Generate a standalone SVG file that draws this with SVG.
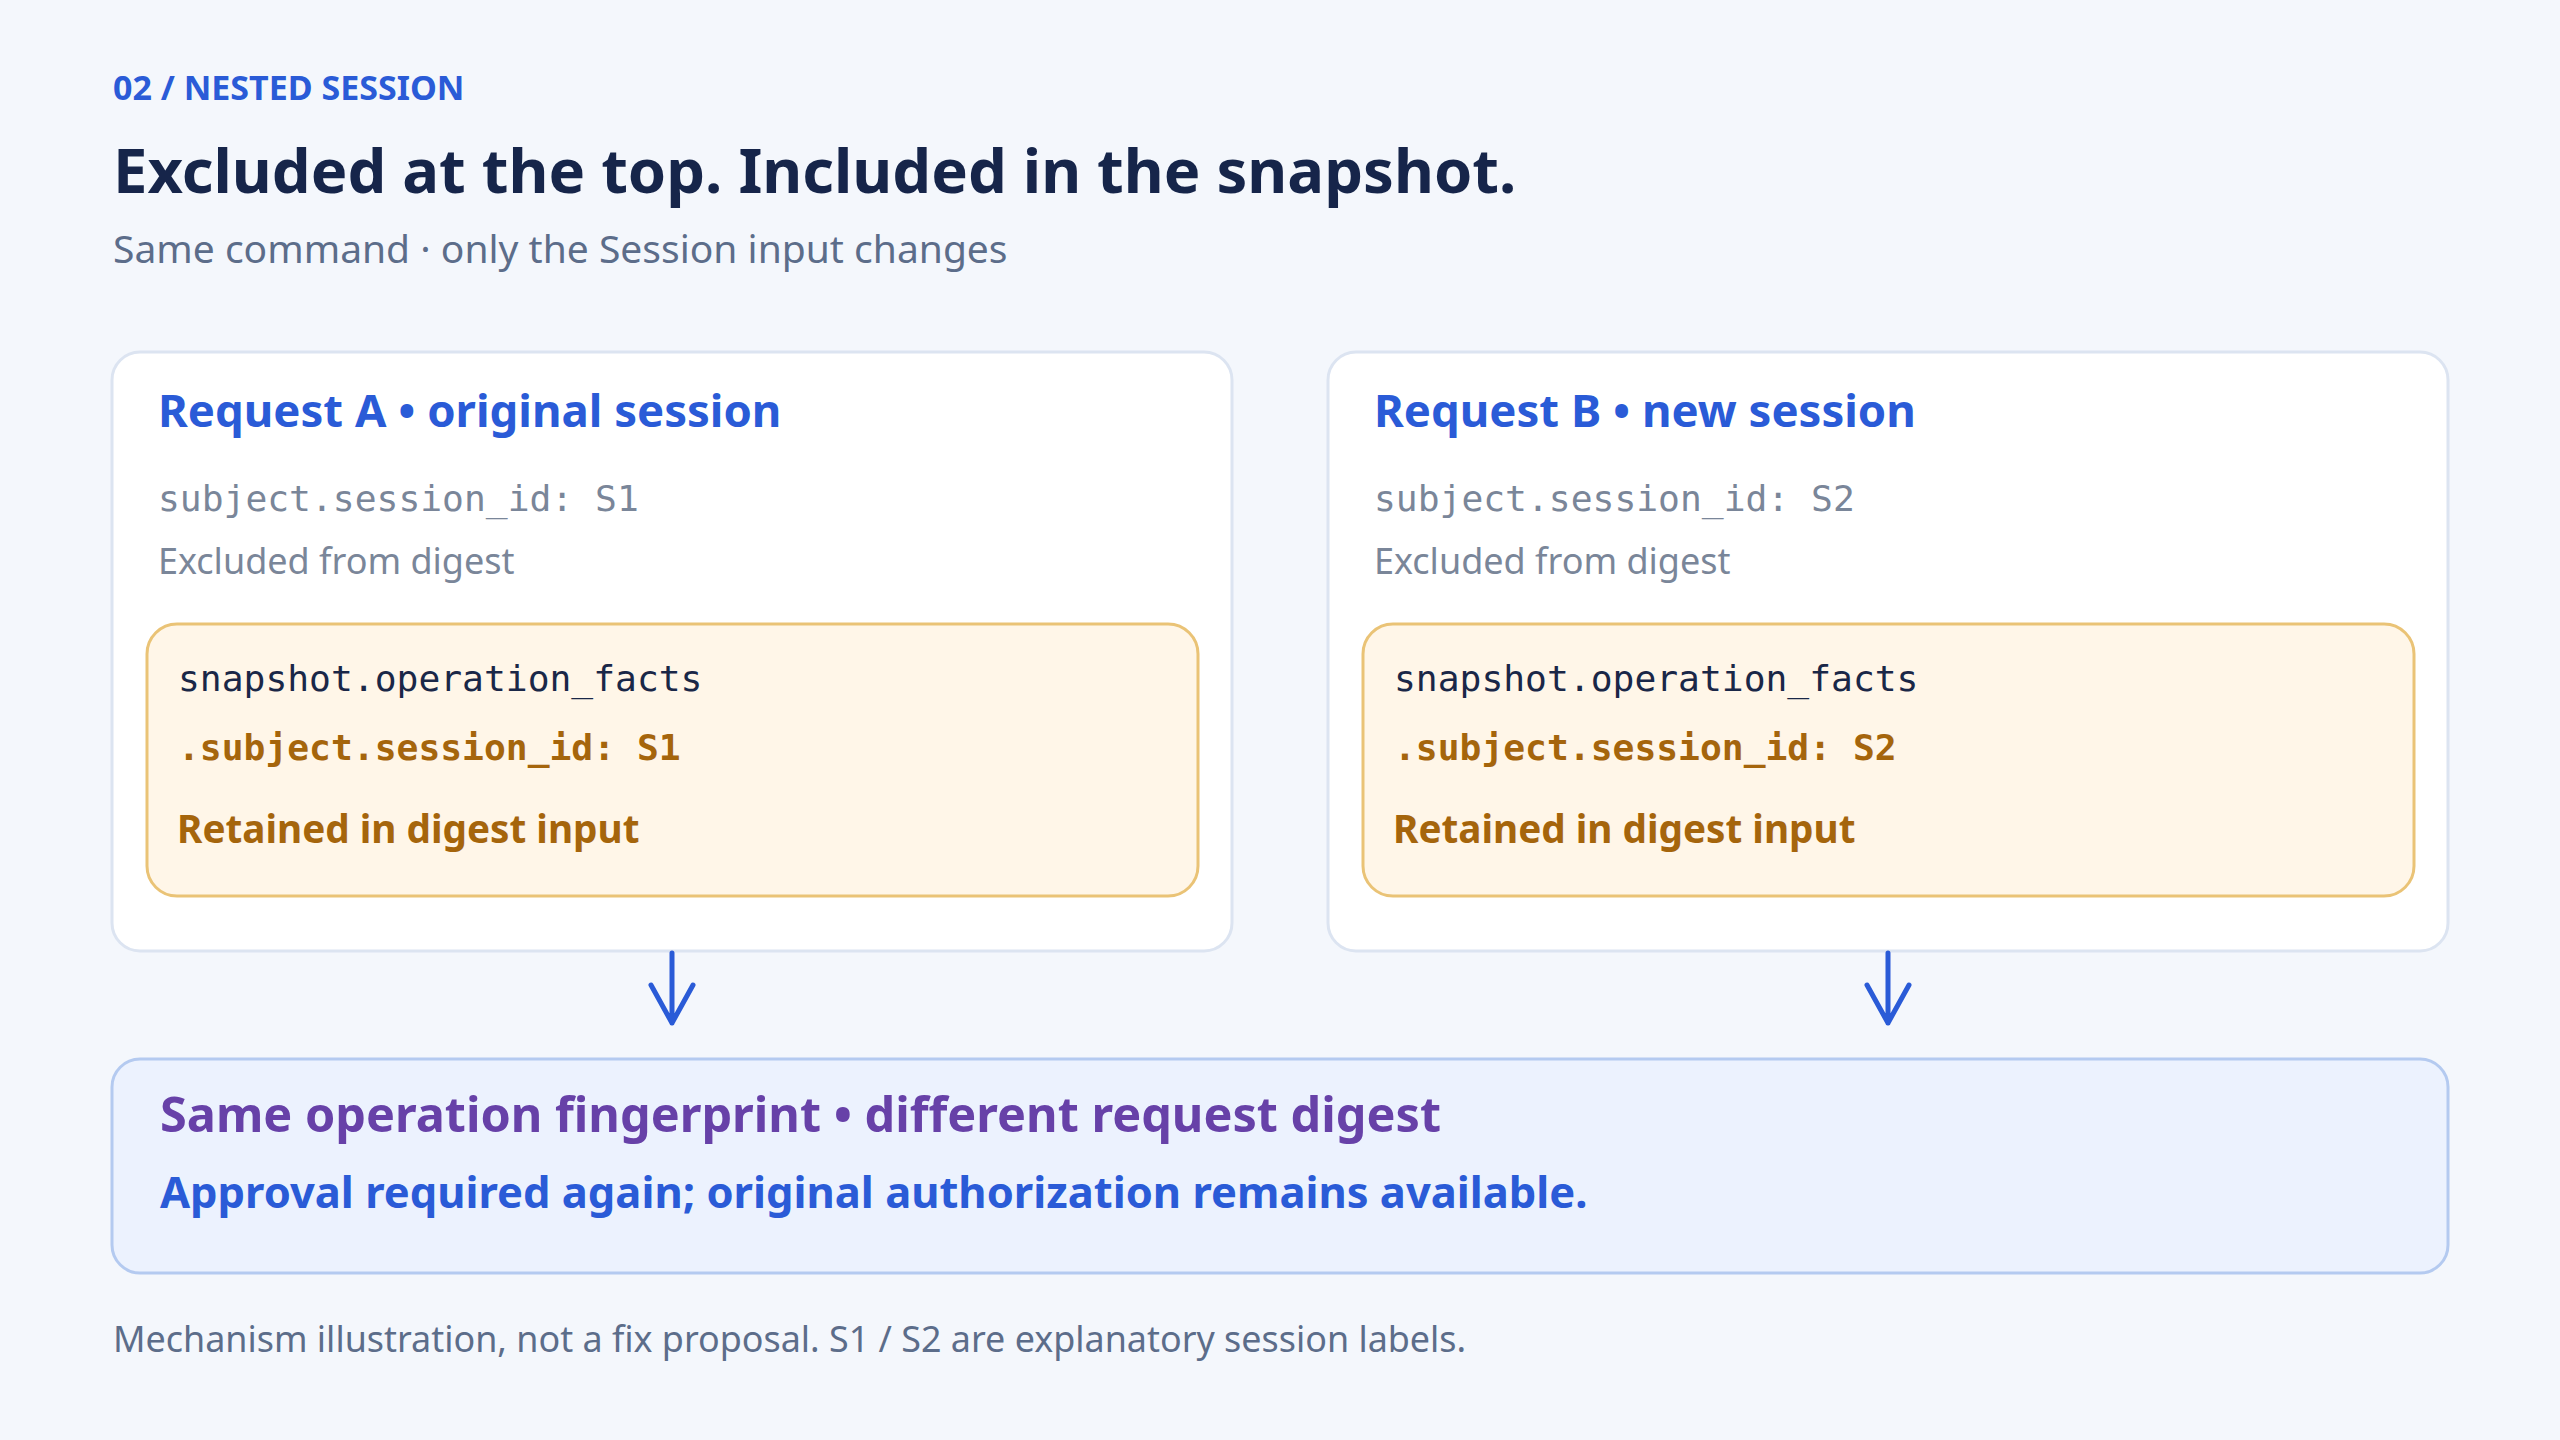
<svg xmlns="http://www.w3.org/2000/svg" width="2560" height="1440" viewBox="0 0 2560 1440">
<style>
.sans{font-family:"Noto Sans","Open Sans","Liberation Sans",sans-serif}
.mono{font-family:"DejaVu Sans Mono","Liberation Mono",monospace}
.kicker{font-size:34px;font-weight:700;fill:#2a5bd7}
.title{font-size:61.5px;font-weight:700;fill:#16254a}
.sub{font-size:39px;fill:#5c6d8a}
.card{fill:#ffffff;stroke:#dce4f1;stroke-width:3}
.snap{fill:#fff6e8;stroke:#eac376;stroke-width:3}
.h{font-size:45.5px;font-weight:700;fill:#2a5bd7}
.mg{font-size:36.3px;fill:#7a8699}
.ex{font-size:36px;fill:#7a8699}
.md{font-size:36.3px;fill:#1a2747}
.mb{font-size:36.3px;font-weight:700;fill:#a5650c}
.ret{font-size:38.7px;font-weight:700;fill:#a5650c}
.res{fill:#ecf2fe;stroke:#b4caf0;stroke-width:3}
.pur{font-size:48.6px;font-weight:700;fill:#6741a8}
.appr{font-size:43.5px;font-weight:700;fill:#2a5bd7}
.foot{font-size:35.9px;fill:#5c6d8a}
.arr{fill:none;stroke:#2a5bd7;stroke-width:5;stroke-linecap:round;stroke-linejoin:round}
</style>
<rect width="2560" height="1440" fill="#f4f7fc"/>
<g id="header">
<text class="sans kicker" x="113" y="100">02 / NESTED SESSION</text>
<text class="sans title" x="113" y="193">Excluded at the top. Included in the snapshot.</text>
<text class="sans sub" x="113" y="263">Same command · only the Session input changes</text>
</g>
<g id="requestA">
<rect class="card" x="112" y="352" width="1120" height="599" rx="28"/>
<text class="sans h" x="158" y="427">Request A • original session</text>
<text class="mono mg" x="158" y="511">subject.session_id: S1</text>
<text class="sans ex" x="158" y="574">Excluded from digest</text>
<rect class="snap" x="147" y="624" width="1051" height="272" rx="30"/>
<text class="mono md" x="178" y="691">snapshot.operation_facts</text>
<text class="mono mb" x="178" y="760">.subject.session_id: S1</text>
<text class="sans ret" x="177" y="843">Retained in digest input</text>
</g>
<g id="requestB">
<rect class="card" x="1328" y="352" width="1120" height="599" rx="28"/>
<text class="sans h" x="1374" y="427">Request B • new session</text>
<text class="mono mg" x="1374" y="511">subject.session_id: S2</text>
<text class="sans ex" x="1374" y="574">Excluded from digest</text>
<rect class="snap" x="1363" y="624" width="1051" height="272" rx="30"/>
<text class="mono md" x="1394" y="691">snapshot.operation_facts</text>
<text class="mono mb" x="1394" y="760">.subject.session_id: S2</text>
<text class="sans ret" x="1393" y="843">Retained in digest input</text>
</g>
<g id="connectors">
<path class="arr" d="M672 953 V1023 M651 985 L672 1023 L693 985"/>
<path class="arr" d="M1888 953 V1023 M1867 985 L1888 1023 L1909 985"/>
</g>
<g id="result">
<rect class="res" x="112" y="1059" width="2336" height="214" rx="28"/>
<text class="sans pur" x="160" y="1132">Same operation fingerprint • different request digest</text>
<text class="sans appr" x="160" y="1208">Approval required again; original authorization remains available.</text>
</g>
<g id="footer">
<text class="sans foot" x="113" y="1352">Mechanism illustration, not a fix proposal. S1 / S2 are explanatory session labels.</text>
</g>
</svg>
